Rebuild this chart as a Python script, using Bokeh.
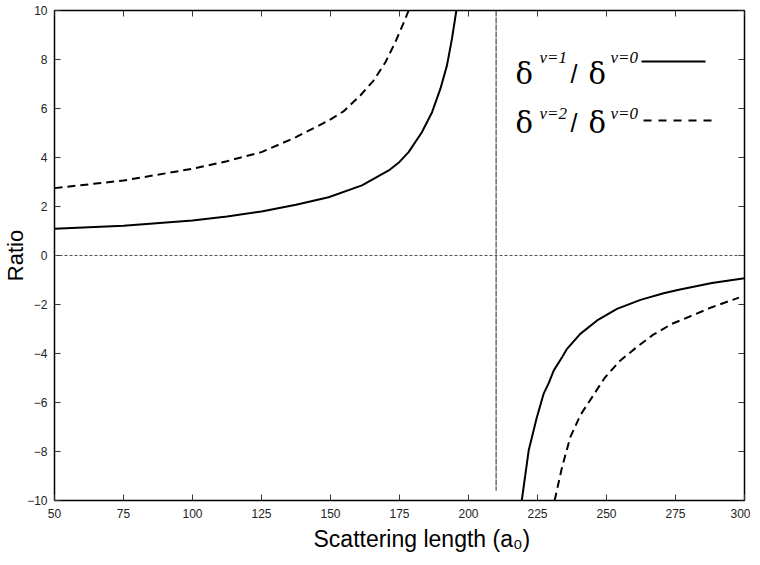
from bokeh.plotting import figure
from bokeh.models import Range1d, FixedTicker, Label, Span, Title
from bokeh.embed import file_html
from bokeh.resources import INLINE

# ---- data ----
x_ticks = [50, 75, 100, 125, 150, 175, 200, 225, 250, 275, 300]
y_ticks = [-10, -8, -6, -4, -2, 0, 2, 4, 6, 8, 10]

# delta(v=1)/delta(v=0), branch below the pole and above the pole
v1_left_x = [50, 75, 100, 112.5, 125, 137.5, 149.3, 161.4, 171.1, 175.0, 178.3, 183.1, 186.8, 189.8, 192.2, 194.0, 195.6]
v1_left_y = [1.09, 1.21, 1.43, 1.59, 1.80, 2.07, 2.38, 2.86, 3.47, 3.82, 4.22, 5.03, 5.85, 6.80, 7.76, 8.84, 10.0]
v1_right_x = [219.3, 221.8, 224.7, 227.2, 229.1, 230.9, 233.9, 235.7, 240.5, 246.6, 253.8, 262.3, 270.7, 276.2, 288.2, 300]
v1_right_y = [-10.0, -7.96, -6.63, -5.65, -5.20, -4.69, -4.15, -3.81, -3.20, -2.65, -2.18, -1.81, -1.54, -1.40, -1.12, -0.93]

# delta(v=2)/delta(v=0)
v2_left_x = [50, 75, 100, 112.5, 125, 137.5, 149.3, 154.7, 160.8, 165.6, 169.9, 173.5, 177.1, 178.3]
v2_left_y = [2.75, 3.06, 3.54, 3.85, 4.22, 4.83, 5.51, 5.88, 6.53, 7.14, 7.89, 8.71, 9.66, 10.0]
v2_right_x = [231.2, 233.9, 236.9, 240.6, 244.8, 249.3, 254.7, 260.5, 266.8, 273.7, 281.0, 288.2, 296.7, 298.0]
v2_right_y = [-10.0, -8.64, -7.41, -6.50, -5.78, -5.00, -4.32, -3.78, -3.24, -2.79, -2.45, -2.11, -1.77, -1.72]

pole_x = 210

x_title = "Scattering length (a\u2080)"
y_title = "Ratio"

TICK_FONT = "Liberation Sans"
TITLE_FONT = "Liberation Sans"
SERIF = "Liberation Serif"

p = figure(frame_width=690, frame_height=490, output_backend="svg", toolbar_location=None,
           x_range=Range1d(50, 300), y_range=Range1d(-10, 10),
           min_border_left=48, min_border_right=6, min_border_top=10, min_border_bottom=0,
           background_fill_color="white", border_fill_color="white")
p.grid.visible = False
p.outline_line_color = "black"
p.outline_line_width = 1.5

xa = p.xaxis[0]
ya = p.yaxis[0]
xa.ticker = FixedTicker(ticks=x_ticks)
ya.ticker = FixedTicker(ticks=y_ticks)
for ax in (xa, ya):
    ax.axis_line_color = None
    ax.major_tick_in = 6
    ax.major_tick_out = 0
    ax.major_tick_line_color = "#333333"
    ax.minor_tick_line_color = None
    ax.major_label_text_font = TICK_FONT
    ax.major_label_text_font_size = "12px"
    ax.major_label_text_color = "#222222"
    ax.axis_label_text_font = TITLE_FONT
    ax.axis_label_text_font_size = "22px"
    ax.axis_label_text_font_style = "normal"
    ax.axis_label_text_color = "black"
ya.axis_label = y_title
xa.major_label_standoff = 8
ya.major_label_standoff = 7
ya.axis_label_standoff = -4

# x-axis title: sits right of centre in the reference, so it is a left-aligned Title with an offset
p.add_layout(Title(text=x_title, align="left", offset=259, standoff=6,
                   text_font=TITLE_FONT, text_font_size="23px", text_font_style="normal",
                   text_color="black"), "below")

# mirrored inward ticks on the top and right edges of the frame
tick_dy = 6 / 24.5
tick_dx = 6 / 2.76
p.segment(x0=x_ticks, y0=[10] * len(x_ticks), x1=x_ticks, y1=[10 - tick_dy] * len(x_ticks),
          line_color="#333333", line_width=1)
p.segment(x0=[300] * len(y_ticks), y0=y_ticks, x1=[300 - tick_dx] * len(y_ticks), y1=y_ticks,
          line_color="#333333", line_width=1)

# reference lines
p.add_layout(Span(location=0, dimension="width", line_color="#555555",
                  line_width=1, line_dash="3 2"))
p.segment(x0=[pole_x], y0=[10], x1=[pole_x], y1=[-9.6], line_color="#222222",
          line_width=1, line_dash="6 1")

# curves
p.line(v1_left_x, v1_left_y, line_color="black", line_width=2)
p.line(v1_right_x, v1_right_y, line_color="black", line_width=2)
p.line(v2_left_x, v2_left_y, line_color="black", line_width=2, line_dash="8 5")
p.line(v2_right_x, v2_right_y, line_color="black", line_width=2, line_dash="8 5")

# ---- legend: pixel placement (relative to the reference frame) converted to data space ----
def dx(px):
    return 50 + (px - 56) / 2.76

def dy(py):
    return (255 - py) / 24.5

def lab(px, py, text, size, font=SERIF, style="normal"):
    p.add_layout(Label(x=dx(px), y=dy(py), text=text, text_font=font,
                       text_font_size=size, text_font_style=style,
                       text_color="black", text_align="left", text_baseline="alphabetic"))

for base, sup_base, sup in ((73, 57, "v=1"), (122, 113, "v=2")):
    lab(517, base, "\u03b4", "29px", font="DejaVu Serif")
    lab(541, sup_base, sup, "17px", style="italic")
    lab(572, base, "/", "25px", font="Liberation Sans")
    lab(590, base, "\u03b4", "29px", font="DejaVu Serif")
    lab(612, sup_base, "v=0", "17px", style="italic")

p.line([dx(643), dx(707)], [dy(61), dy(61)], line_color="black", line_width=2)
p.line([dx(645), dx(713)], [dy(120), dy(120)], line_color="black", line_width=2, line_dash="8 7")

open("out.html", "w").write(file_html(p, INLINE))
